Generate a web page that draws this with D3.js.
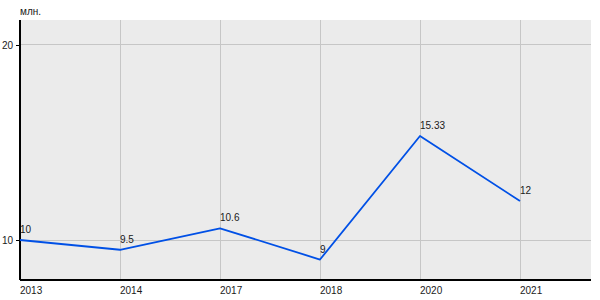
<!DOCTYPE html>
<html><head><meta charset="utf-8">
<script src="https://cdn.jsdelivr.net/npm/d3@7"></script>
<style>body{margin:0;background:#fff}svg{display:block}text{font-family:"Liberation Sans",Arial,sans-serif;font-size:10px;fill:#1a1a1a}</style>
</head><body>
<svg id="c" width="600" height="300"></svg>
<script>
const categories = ["2013","2014","2017","2018","2020","2021"];
const values = [10, 9.5, 10.6, 9, 15.33, 12];
const valueLabels = ["10","9.5","10.6","9","15.33","12"];
const yTicks = [10, 20];
const unitLabel = "млн.";

const svg = d3.select("#c");
const L = 20, R = 591, T = 20, B = 280;
const x = d3.scaleLinear().domain([0, 5.71]).range([L, R]);
const y = d3.scaleLinear().domain([7.95, 21.28]).range([B, T]);

svg.append("rect").attr("x", L).attr("y", T).attr("width", R - L).attr("height", B - T).attr("fill", "#ebebeb");

// grid
svg.append("g").selectAll("line").data(categories).join("line")
  .attr("x1", (d, i) => x(i)).attr("x2", (d, i) => x(i))
  .attr("y1", T).attr("y2", B).attr("stroke", "#c6c6c6").attr("stroke-width", 1)
  .attr("shape-rendering", "crispEdges");
svg.append("g").selectAll("line").data(yTicks).join("line")
  .attr("x1", L).attr("x2", R).attr("y1", d => y(d)).attr("y2", d => y(d))
  .attr("stroke", "#c6c6c6").attr("stroke-width", 1).attr("shape-rendering", "crispEdges");

// axes
const yAxis = d3.axisLeft(y).tickValues(yTicks).tickSize(4).tickPadding(3).tickFormat(d3.format("d"));
const gy = svg.append("g").attr("transform", `translate(${L},0)`).call(yAxis);
gy.select(".domain").remove();
gy.selectAll("line").attr("stroke", "#000").attr("shape-rendering", "crispEdges");
gy.selectAll("text").attr("font-size", 10).attr("font-family", "Liberation Sans, Arial, sans-serif").attr("fill", "#1a1a1a");

svg.append("line").attr("x1", L).attr("x2", L).attr("y1", T).attr("y2", B).attr("stroke", "#000").attr("stroke-width", 2).attr("shape-rendering", "crispEdges");
svg.append("line").attr("x1", L).attr("x2", R).attr("y1", B).attr("y2", B).attr("stroke", "#000").attr("stroke-width", 2).attr("shape-rendering", "crispEdges");

svg.append("g").selectAll("text").data(categories).join("text")
  .attr("x", (d, i) => x(i)).attr("y", B + 14).attr("text-anchor", "start").text(d => d);

svg.append("text").attr("x", L).attr("y", 15).text(unitLabel);

// line
const line = d3.line().x((d, i) => x(i)).y(d => y(d));
svg.append("path").datum(values).attr("d", line).attr("fill", "none")
  .attr("stroke", "#0050e6").attr("stroke-width", 1.8).attr("stroke-linejoin", "round");

svg.append("g").selectAll("text").data(values).join("text")
  .attr("x", (d, i) => x(i)).attr("y", d => y(d) - 7).text((d, i) => valueLabels[i]);
</script>
</body></html>
